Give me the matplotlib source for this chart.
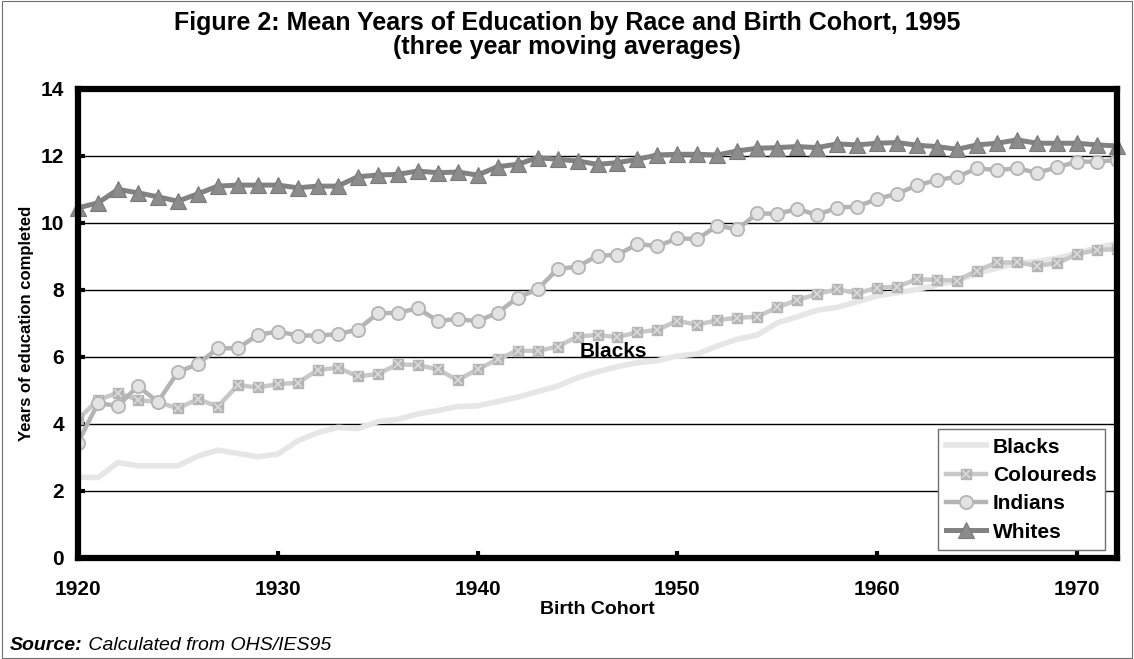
import matplotlib
matplotlib.use("Agg")
import matplotlib.pyplot as plt
from matplotlib.legend_handler import HandlerTuple
from matplotlib.patches import Rectangle

plt.rcParams['font.family'] = ['Liberation Sans', 'DejaVu Sans']

years = list(range(1920, 1973))

blacks = [2.41, 2.40, 2.85, 2.75, 2.75, 2.75, 3.04, 3.22, 3.12, 3.02,
          3.10, 3.50, 3.74, 3.90, 3.86, 4.07, 4.14, 4.30, 4.40, 4.52,
          4.54, 4.67, 4.80, 4.97, 5.13, 5.38, 5.56, 5.71, 5.83, 5.89,
          6.03, 6.09, 6.33, 6.53, 6.66, 7.02, 7.20, 7.40, 7.48, 7.65,
          7.82, 7.92, 8.02, 8.15, 8.28, 8.50, 8.65, 8.80, 8.85, 8.95,
          9.10, 9.25, 9.40]

coloureds = [4.14, 4.72, 4.93, 4.72, 4.65, 4.47, 4.74, 4.52, 5.16, 5.09,
             5.19, 5.23, 5.61, 5.68, 5.42, 5.49, 5.78, 5.76, 5.63, 5.31,
             5.63, 5.93, 6.19, 6.18, 6.31, 6.61, 6.66, 6.59, 6.74, 6.81,
             7.08, 6.96, 7.10, 7.17, 7.20, 7.48, 7.70, 7.88, 8.02, 7.90,
             8.07, 8.10, 8.32, 8.30, 8.28, 8.58, 8.82, 8.82, 8.72, 8.80,
             9.07, 9.19, 9.22]

indians = [3.44, 4.62, 4.54, 5.13, 4.66, 5.55, 5.79, 6.26, 6.26, 6.66,
           6.76, 6.64, 6.64, 6.68, 6.82, 7.30, 7.32, 7.45, 7.08, 7.13,
           7.07, 7.32, 7.77, 8.02, 8.62, 8.70, 9.02, 9.05, 9.37, 9.31,
           9.54, 9.52, 9.92, 9.81, 10.29, 10.27, 10.42, 10.24, 10.46, 10.49,
           10.72, 10.87, 11.13, 11.28, 11.38, 11.63, 11.58, 11.63, 11.50, 11.66,
           11.83, 11.83, 11.88]

whites = [10.45, 10.60, 11.00, 10.90, 10.78, 10.65, 10.87, 11.10, 11.13, 11.13,
          11.13, 11.05, 11.10, 11.10, 11.38, 11.43, 11.45, 11.55, 11.50, 11.52,
          11.43, 11.68, 11.75, 11.95, 11.90, 11.85, 11.75, 11.80, 11.90, 12.03,
          12.05, 12.05, 12.03, 12.15, 12.23, 12.25, 12.28, 12.25, 12.36, 12.33,
          12.38, 12.40, 12.32, 12.28, 12.20, 12.33, 12.38, 12.48, 12.38, 12.38,
          12.38, 12.33, 12.30]

x_ticks = [1920, 1930, 1940, 1950, 1960, 1970]
y_ticks = [0, 2, 4, 6, 8, 10, 12, 14]

fig = plt.figure(figsize=(11.34, 6.59), dpi=100)
ax = fig.add_axes([0.0688, 0.1533, 0.9162, 0.7117])

# Thin outer border around the whole chart
fig.patches.append(Rectangle((0.002, 0.002), 0.996, 0.996, transform=fig.transFigure,
                             fill=False, edgecolor='#707070', linewidth=0.8))

ax.plot(years, blacks, color='#e6e6e6', linewidth=4.0, solid_capstyle='butt',
        zorder=3)
hb, = ax.plot([], [], color='#e6e6e6', linewidth=4.0)

hc_line, = ax.plot(years, coloureds, color='#c8c8c8', linewidth=3.2,
                   marker='s', markersize=7.2, markerfacecolor='#b4b4b4',
                   markeredgecolor='#b4b4b4', zorder=4)
hc_x, = ax.plot(years, coloureds, linestyle='none', marker='x', markersize=6,
                markeredgecolor='#dadada', markeredgewidth=1.2, zorder=5)

hi, = ax.plot(years, indians, color='#b4b4b4', linewidth=3.2,
              marker='o', markersize=9.5, markerfacecolor='#e3e3e3',
              markeredgecolor='#b4b4b4', markeredgewidth=1.3, zorder=6)

hw, = ax.plot(years, whites, color='#828282', linewidth=3.6,
              marker='^', markersize=12, markerfacecolor='#8c8c8c',
              markeredgecolor='#7a7a7a', markeredgewidth=0.8, zorder=7,
              clip_on=False)

ax.text(1946.8, 6.15, 'Blacks', fontsize=15, fontweight='bold',
        ha='center', va='center', zorder=8)

ax.set_xlim(1920, 1972)
ax.set_ylim(0, 14)
ax.set_xticks(x_ticks)
ax.set_yticks(y_ticks)
ax.tick_params(axis='both', direction='in', length=5, width=3, color='black',
               labelsize=15)
ax.tick_params(axis='x', pad=16)
ax.tick_params(axis='y', pad=10)
for lab in ax.get_xticklabels() + ax.get_yticklabels():
    lab.set_fontweight('bold')

ax.yaxis.grid(True, color='black', linewidth=1.0)
ax.set_axisbelow(True)
for sp in ax.spines.values():
    sp.set_linewidth(4.5)
    sp.set_color('black')
    sp.set_zorder(9)

ax.set_xlabel('Birth Cohort', fontsize=14, fontweight='bold', labelpad=1)
ax.set_ylabel('Years of education completed', fontsize=12, fontweight='bold',
              labelpad=5)

fig.text(0.5, 0.965, 'Figure 2: Mean Years of Education by Race and Birth Cohort, 1995',
         fontsize=18, fontweight='bold', ha='center', va='center')
fig.text(0.5, 0.929, '(three year moving averages)',
         fontsize=18, fontweight='bold', ha='center', va='center')

leg = ax.legend([hb, (hc_line, hc_x), hi, hw],
                ['Blacks', 'Coloureds', 'Indians', 'Whites'],
                handler_map={tuple: HandlerTuple(ndivide=1, pad=0)},
                loc='lower right', bbox_to_anchor=(0.9885, 0.017),
                prop={'weight': 'bold', 'size': 15}, fancybox=False,
                framealpha=1, edgecolor='#707070', handlelength=1.9,
                borderpad=0.4, labelspacing=0.45, handletextpad=0.35,
                borderaxespad=0)
leg.get_frame().set_linewidth(1.0)
leg.set_zorder(10)

src_bold = fig.text(0.009, 0.014, 'Source:', fontsize=14, fontweight='bold',
                    fontstyle='italic', ha='left', va='baseline')
fig.canvas.draw()
bb = src_bold.get_window_extent()
x_after = fig.transFigure.inverted().transform((bb.x1, bb.y0))[0]
fig.text(x_after, 0.014, ' Calculated from OHS/IES95', fontsize=14,
         fontstyle='italic', ha='left', va='baseline')

fig.savefig('out.png', dpi=100)
